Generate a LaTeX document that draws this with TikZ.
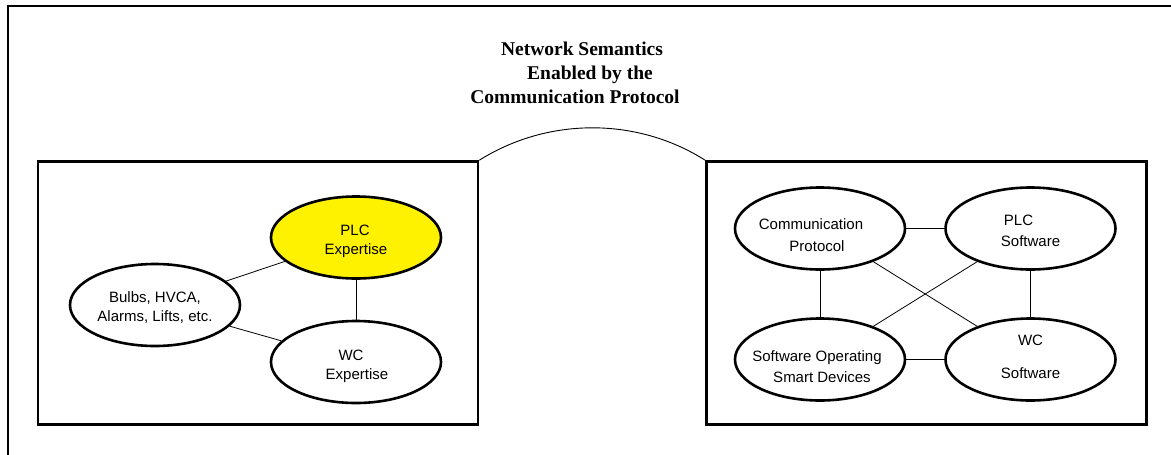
\documentclass[tikz,border=0pt]{standalone}
\usepackage{fontspec}
\setmainfont{Liberation Serif}
\newfontfamily\ellfont{Liberation Sans}
\usetikzlibrary{shapes.geometric}
% one text line in an ellipse: #1 = shift right, #2 = baseline offset below the centre, #3 = text
\newcommand\tline[3]{\makebox[0pt]{\hspace*{#1}\hspace*{#1}\raisebox{-#2}[0pt][0pt]{#3}}}
\tikzset{
  ell/.style={ellipse, draw=black, line width=2.6pt, minimum width=170pt, minimum height=82pt,
    inner sep=0pt, font=\ellfont\fontsize{15}{20}\selectfont},
  frame/.style={draw=black, line width=2.5pt, minimum width=440pt, minimum height=263pt, inner sep=0pt},
  link/.style={draw=black, line width=0.8pt},
  ttl/.style={anchor=base, inner sep=0pt, font=\bfseries\fontsize{19.5}{24}\selectfont},
}
\begin{document}
\begin{tikzpicture}[x=1pt, y=-1pt]
\useasboundingbox (0,0) rectangle (1171,455);
% outer frame (top and left edges only)
\coordinate (fbl) at (8,455);
\coordinate (ftl) at (8,6);
\coordinate (ftr) at (1171,6);
\draw[line width=2pt] (fbl) -- (ftl) -- (ftr);
% title
\node[ttl] (t1) at (582,55) {Network Semantics};
\node[ttl] (t2) at (590,79) {Enabled by the};
\node[ttl] (t3) at (575,103) {Communication Protocol};
% boxes
\node[frame] (lbox) at (258,293) {};
\node[frame] (rbox) at (926.5,293) {};
\draw[line width=0.9pt] (lbox.north east) .. controls (548,117) and (637,117) .. (rbox.north west);
% left ellipses
\node[ell, fill=yellow] (plce) at (356,237.5) {\tline{-1pt}{-2.5pt}{PLC}\tline{0pt}{17pt}{Expertise}};
\node[ell] (bulbs) at (155,305) {\tline{0pt}{-3pt}{Bulbs, HVCA,}\tline{0pt}{16pt}{Alarms, Lifts, etc.}};
\node[ell] (wce) at (356,362) {\tline{-5pt}{-2pt}{WC}\tline{1pt}{17.5pt}{Expertise}};
\draw[link] (bulbs) -- (plce);
\draw[link] (bulbs) -- (wce);
\draw[link] (plce) -- (wce);
% right ellipses
\node[ell] (comm) at (820,228.5) {\tline{-9pt}{0.5pt}{Communication}\tline{-3pt}{23pt}{Protocol}};
\node[ell] (plcs) at (1030.5,228.5) {\tline{-12pt}{-3.5pt}{PLC}\tline{0pt}{17.5pt}{Software}};
\node[ell] (sosd) at (820,359.5) {\tline{-3pt}{1.5pt}{Software Operating}\tline{2pt}{23pt}{Smart Devices}};
\node[ell] (wcs) at (1030.5,359.5) {\tline{0pt}{-14.5pt}{WC}\tline{0pt}{18.5pt}{Software}};
\draw[link] (comm) -- (plcs);
\draw[link] (comm) -- (sosd);
\draw[link] (plcs) -- (wcs);
\draw[link] (sosd) -- (wcs);
\draw[link] (comm) -- (wcs);
\draw[link] (sosd) -- (plcs);
\end{tikzpicture}
\end{document}
